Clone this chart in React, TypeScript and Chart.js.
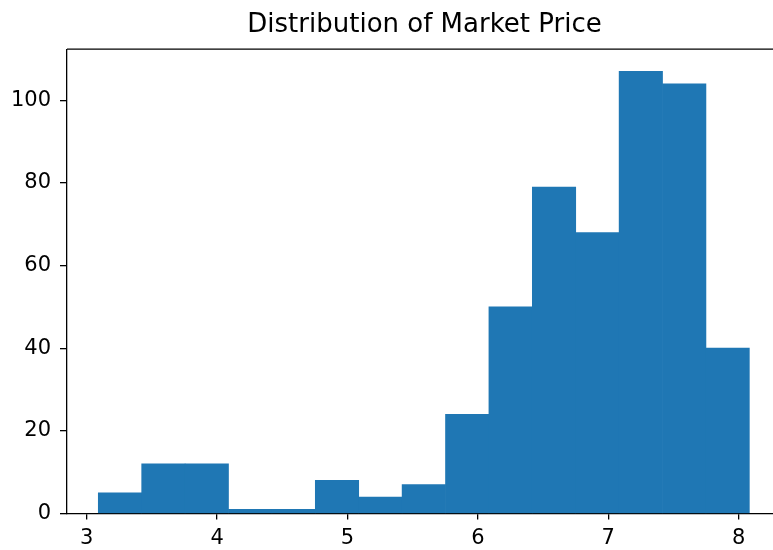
import React, { useEffect, useRef } from "react";
import { Chart, registerables } from "chart.js";

Chart.register(...registerables);

const TITLE = "Distribution of Market Price";
const BIN_EDGES = [
  3.089, 3.4219, 3.7548, 4.0877, 4.4206, 4.7535, 5.0864, 5.4193, 5.7522,
  6.0851, 6.418, 6.7509, 7.0838, 7.4167, 7.7496, 8.0825,
];
const COUNTS = [5, 12, 12, 1, 1, 8, 4, 7, 24, 50, 79, 68, 107, 104, 40];
const X_TICKS = [3, 4, 5, 6, 7, 8];
const Y_TICKS = [0, 20, 40, 60, 80, 100];
const X_MIN = 2.849;
const X_MAX = 8.333;
const Y_MAX = 112.35;

const FONT = "'DejaVu Sans', sans-serif";

export default function App() {
  const ref = useRef<HTMLCanvasElement | null>(null);

  useEffect(() => {
    if (!ref.current) return;
    const points = COUNTS.map((c, i) => ({
      x: (BIN_EDGES[i] + BIN_EDGES[i + 1]) / 2,
      y: c,
    }));
    const frame = {
      id: "frame",
      afterDatasetsDraw(chart: any) {
        const { ctx, chartArea } = chart;
        ctx.save();
        ctx.strokeStyle = "#000";
        ctx.lineWidth = 1.3;
        ctx.beginPath();
        ctx.moveTo(chartArea.left, chartArea.top);
        ctx.lineTo(chartArea.right + 2, chartArea.top);
        ctx.stroke();
        ctx.restore();
      },
    };
    const chart = new Chart(ref.current, {
      type: "bar",
      data: {
        datasets: [
          {
            data: points as any,
            backgroundColor: "#1f77b4",
            borderWidth: 0,
            barPercentage: 1,
            categoryPercentage: 1,
          },
        ],
      },
      options: {
        animation: false,
        responsive: true,
        maintainAspectRatio: false,
        layout: { padding: 0 },
        plugins: {
          legend: { display: false },
          tooltip: { enabled: false },
          title: {
            display: true,
            text: TITLE,
            fullSize: false,
            color: "#000",
            font: { family: FONT, size: 26, weight: "normal" },
            padding: { top: 10, bottom: 8 },
          },
        },
        scales: {
          x: {
            type: "linear",
            min: X_MIN,
            max: X_MAX,
            offset: false,
            afterBuildTicks: (s: any) => {
              s.ticks = X_TICKS.map((v) => ({ value: v }));
            },
            afterFit: (s: any) => {
              s.height = 36.5;
            },
            ticks: {
              color: "#000",
              font: { family: FONT, size: 21 },
              padding: 6,
              maxRotation: 0,
              autoSkip: false,
            },
            grid: {
              offset: false,
              drawOnChartArea: false,
              drawTicks: true,
              tickLength: 6,
              color: "#000",
              lineWidth: 1.3,
            },
            border: { display: true, color: "#000", width: 1.3 },
          },
          y: {
            type: "linear",
            min: 0,
            max: Y_MAX,
            afterBuildTicks: (s: any) => {
              s.ticks = Y_TICKS.map((v) => ({ value: v }));
            },
            afterFit: (s: any) => {
              s.width = 67;
            },
            ticks: {
              color: "#000",
              font: { family: FONT, size: 21 },
              padding: 9,
              autoSkip: false,
            },
            grid: {
              offset: false,
              drawOnChartArea: false,
              drawTicks: true,
              tickLength: 7,
              color: "#000",
              lineWidth: 1.3,
            },
            border: { display: true, color: "#000", width: 1.3 },
          },
        },
      },
      plugins: [frame],
    });
    return () => chart.destroy();
  }, []);

  return (
    <div
      style={{
        position: "fixed",
        left: 0,
        top: 0,
        width: 773,
        height: 550,
        overflow: "hidden",
        background: "#fff",
      }}
    >
      <div style={{ position: "absolute", left: 0, top: 0, width: 782, height: 550 }}>
        <canvas ref={ref} />
      </div>
    </div>
  );
}
